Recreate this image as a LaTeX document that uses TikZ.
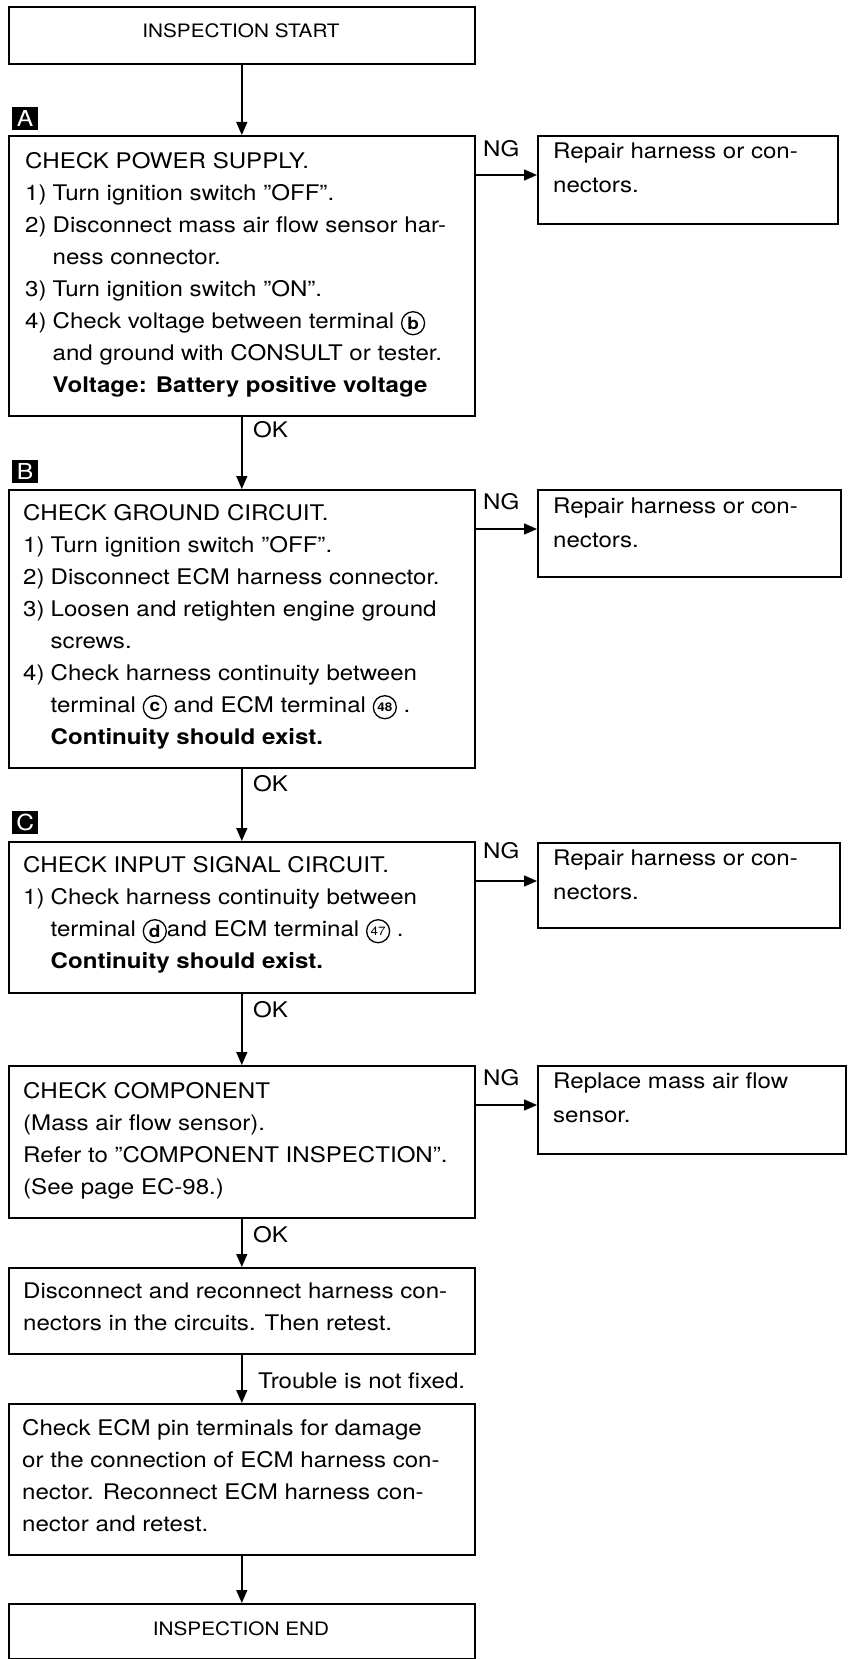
\documentclass[tikz,border=0pt]{standalone}
\usepackage{fontspec}
\setmainfont{TeX Gyre Heros}[FakeStretch=1.12]
\usetikzlibrary{arrows.meta,calc}
\newcommand\lfont{\fontsize{21.5}{32}\selectfont}
\newcommand\rfont{\fontsize{21.5}{34.5}\selectfont}
\newcommand\sfont{\fontsize{18.5}{24}\selectfont}
\newcommand\itm[1]{\makebox[27.5pt][l]{#1}}
\newcommand\ind{\hspace*{27.5pt}}
\newcommand\circd[3]{\tikz[baseline=-5pt]\node[circle,draw,anchor=center,line width=1.3pt,minimum size=23pt,inner sep=0pt,align=center,font=#3](#1){#2};}
\tikzset{
  box/.style={draw, line width=1.6pt, rectangle, inner sep=0pt, anchor=north west},
  txt/.style={anchor=north west, inner sep=0pt, align=left, font=\lfont},
  rtxt/.style={anchor=north west, inner sep=0pt, align=left, font=\rfont},
  lbl/.style={fill=black, text=white, inner sep=0pt, minimum width=26pt, minimum height=23pt, font=\fontsize{22}{22}\selectfont, anchor=south west},
  arr/.style={line width=1.4pt, -{Triangle[length=13pt,width=11pt]}},
  tag/.style={anchor=base west, inner sep=0pt, font=\lfont},
}
\begin{document}
\begin{tikzpicture}[x=1pt,y=-1pt]
\useasboundingbox (0,0) rectangle (850,1659);

% main boxes
\node[box, minimum width=466pt, minimum height=57pt]  (S) at (8,6) {};
\node[box, minimum width=466pt, minimum height=280pt] (A) at (8,135) {};
\node[box, minimum width=466pt, minimum height=278pt] (B) at (8,489) {};
\node[box, minimum width=466pt, minimum height=151pt] (C) at (8,841) {};
\node[box, minimum width=466pt, minimum height=152pt] (D) at (8,1065) {};
\node[box, minimum width=466pt, minimum height=86pt]  (E) at (8,1267) {};
\node[box, minimum width=466pt, minimum height=151pt] (F) at (8,1403) {};
\node[box, minimum width=466pt, minimum height=55pt]  (G) at (8,1603) {};

% right boxes
\node[box, minimum width=300pt, minimum height=88pt] (RA) at (537,135) {};
\node[box, minimum width=303pt, minimum height=87pt] (RB) at (537,489) {};
\node[box, minimum width=302pt, minimum height=85pt] (RC) at (537,842) {};
\node[box, minimum width=308pt, minimum height=88pt] (RD) at (537,1065) {};

% step labels
\node[lbl] (labA) at (12,130) {A};
\node[lbl] (labB) at (12,483) {B};
\node[lbl] (labC) at (12,834) {C};

% texts
\node[anchor=base, inner sep=0pt, font=\sfont] (tS) at (241,38) {INSPECTION START};
\node[anchor=base, inner sep=0pt, font=\sfont] (tG) at (241,1635) {INSPECTION END};

\node[txt] (tA) at (25,145.6) {\strut CHECK POWER SUPPLY.\\
\strut\itm{1)}Turn ignition switch ''OFF''.\\
\strut\itm{2)}Disconnect mass air flow sensor har-\\
\strut\ind ness connector.\\
\strut\itm{3)}Turn ignition switch ''ON''.\\
\strut\itm{4)}Check voltage between terminal \circd{cb}{b}{\fontsize{17}{17}\selectfont\bfseries}\\
\strut\ind and ground with CONSULT or tester.\\
\strut\ind\textbf{Voltage: Battery positive voltage}};

\node[txt] (tB) at (23,497.6) {\strut CHECK GROUND CIRCUIT.\\
\strut\itm{1)}Turn ignition switch ''OFF''.\\
\strut\itm{2)}Disconnect ECM harness connector.\\
\strut\itm{3)}Loosen and retighten engine ground\\
\strut\ind screws.\\
\strut\itm{4)}Check harness continuity between\\
\strut\ind terminal \circd{cc}{c}{\fontsize{17}{17}\selectfont\bfseries} and ECM terminal \circd{c48}{48}{\fontsize{12}{12}\selectfont\bfseries} .\\
\strut\ind\textbf{Continuity should exist.}};

\node[txt] (tC) at (23,849.6) {\strut CHECK INPUT SIGNAL CIRCUIT.\\
\strut\itm{1)}Check harness continuity between\\
\strut\ind terminal \circd{cd}{d}{\fontsize{17}{17}\selectfont\bfseries}and ECM terminal \circd{c47}{47}{\fontsize{12}{12}\selectfont} .\\
\strut\ind\textbf{Continuity should exist.}};

\node[txt] (tD) at (23,1075.6) {\strut CHECK COMPONENT\\
\strut (Mass air flow sensor).\\
\strut Refer to ''COMPONENT INSPECTION''.\\
\strut (See page EC-98.)};

\node[txt] (tE) at (23,1275.6) {\strut Disconnect and reconnect harness con-\\
\strut nectors in the circuits. Then retest.};

\node[txt] (tF) at (22,1412.6) {\strut Check ECM pin terminals for damage\\
\strut or the connection of ECM harness con-\\
\strut nector. Reconnect ECM harness con-\\
\strut nector and retest.};

\node[rtxt] (tRA) at (553,133.85) {\strut Repair harness or con-\\\strut nectors.};
\node[rtxt] (tRB) at (553,488.85) {\strut Repair harness or con-\\\strut nectors.};
\node[rtxt] (tRC) at (553,840.85) {\strut Repair harness or con-\\\strut nectors.};
\node[rtxt] (tRD) at (553,1063.85) {\strut Replace mass air flow\\\strut sensor.};

% vertical connectors
\draw[arr] (S.south) -- (A.north);
\draw[arr] (A.south) -- (B.north);
\draw[arr] (B.south) -- (C.north);
\draw[arr] (C.south) -- (D.north);
\draw[arr] (D.south) -- (E.north);
\draw[arr] (E.south) -- (F.north);
\draw[arr] (F.south) -- (G.north);

% NG connectors
\coordinate (nA) at ($(A.north east)+(0,40)$);
\coordinate (nB) at ($(B.north east)+(0,40)$);
\coordinate (nC) at ($(C.north east)+(0,40)$);
\coordinate (nD) at ($(D.north east)+(0,40)$);
\draw[arr] (nA) -- (nA -| RA.west);
\draw[arr] (nB) -- (nB -| RB.west);
\draw[arr] (nC) -- (nC -| RC.west);
\draw[arr] (nD) -- (nD -| RD.west);

% connector labels
\node[tag] (ngA) at (483,157) {NG};
\node[tag] (ngB) at (483,509) {NG};
\node[tag] (ngC) at (483,858) {NG};
\node[tag] (ngD) at (483,1085) {NG};
\node[tag] (okA) at (253,437) {OK};
\node[tag] (okB) at (253,791) {OK};
\node[tag] (okC) at (253,1017) {OK};
\node[tag] (okD) at (253,1242) {OK};
\node[tag] (tnf) at (258,1388) {Trouble is not fixed.};
\end{tikzpicture}
\end{document}
